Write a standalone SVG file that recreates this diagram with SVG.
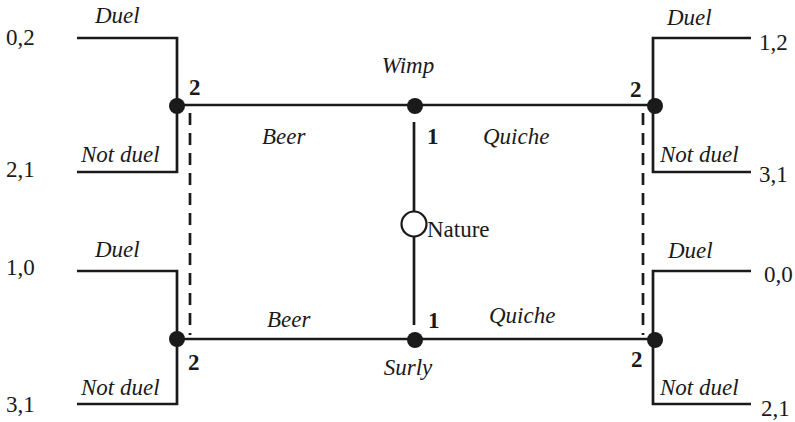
<svg xmlns="http://www.w3.org/2000/svg" width="795" height="422" viewBox="0 0 795 422">
<style>
.e{fill:none;stroke:#1a1a1a;stroke-width:2.7}
.d{fill:none;stroke:#1a1a1a;stroke-width:2.7;stroke-dasharray:12,8}
.dot{fill:#1a1a1a}
text{font-family:'Liberation Serif','Times New Roman','DejaVu Serif',serif;font-size:23px;fill:#1a1a1a}
.i{font-style:italic}
.b{font-weight:bold}
</style>
<rect width="795" height="422" fill="#fff"/>
<g id="connectors">
<line class="e" x1="177" y1="105" x2="654" y2="105"/>
<line class="e" x1="177" y1="339" x2="654" y2="339"/>
<line class="e" x1="414" y1="122" x2="414" y2="211"/>
<line class="e" x1="414" y1="237" x2="414" y2="325"/>
<polyline class="e" points="77,38 177,38 177,172 77,172"/>
<polyline class="e" points="751,38 653,38 653,172 751,172"/>
<polyline class="e" points="77,271 177,271 177,404 77,404"/>
<polyline class="e" points="751,271 653,271 653,404 751,404"/>
<line class="d" x1="190" y1="113" x2="190" y2="335"/>
<line class="d" x1="643" y1="113" x2="643" y2="335"/>
</g>
<g id="nature"><circle cx="414" cy="224" r="12.5" fill="#fff" stroke="#1a1a1a" stroke-width="2.2"/><text x="427" y="237">Nature</text></g>
<g id="wimp"><circle class="dot" cx="415" cy="106" r="8"/><text class="i" x="408" y="73" text-anchor="middle">Wimp</text><text class="b" x="427" y="144">1</text></g>
<g id="surly"><circle class="dot" cx="415" cy="340" r="8"/><text class="i" x="408" y="375" text-anchor="middle">Surly</text><text class="b" x="428" y="328">1</text></g>
<g id="tl"><circle class="dot" cx="177" cy="106" r="8"/><text class="b" x="189" y="95">2</text></g>
<g id="tr"><circle class="dot" cx="655" cy="106" r="8"/><text class="b" x="630" y="97">2</text></g>
<g id="bl"><circle class="dot" cx="177" cy="339" r="8"/><text class="b" x="188" y="370">2</text></g>
<g id="br"><circle class="dot" cx="655" cy="340" r="8"/><text class="b" x="631" y="367">2</text></g>
<g id="labels">
<text class="i" x="262" y="144">Beer</text>
<text class="i" x="483" y="144">Quiche</text>
<text class="i" x="267" y="327">Beer</text>
<text class="i" x="489" y="323">Quiche</text>
<text class="i" x="95" y="23">Duel</text>
<text class="i" x="81" y="162">Not duel</text>
<text class="i" x="667" y="25">Duel</text>
<text class="i" x="660" y="162">Not duel</text>
<text class="i" x="95" y="257">Duel</text>
<text class="i" x="81" y="395">Not duel</text>
<text class="i" x="668" y="258">Duel</text>
<text class="i" x="660" y="395">Not duel</text>
</g>
<g id="payoffs">
<text x="6" y="45">0,2</text>
<text x="6" y="177">2,1</text>
<text x="759" y="50">1,2</text>
<text x="759" y="182">3,1</text>
<text x="6" y="275">1,0</text>
<text x="6" y="412">3,1</text>
<text x="764" y="282">0,0</text>
<text x="761" y="416">2,1</text>
</g>
</svg>
